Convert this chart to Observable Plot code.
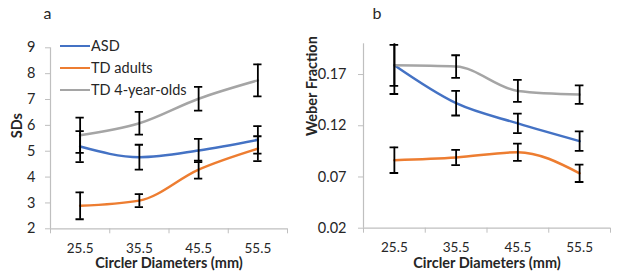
<!DOCTYPE html>
<html><head><meta charset="utf-8">
<script src="https://cdn.jsdelivr.net/npm/d3@7"></script>
<script src="https://cdn.jsdelivr.net/npm/@observablehq/plot@0.6"></script>
<style>
body{margin:0;background:#fff;}
#wrap{position:relative;width:617px;height:278px;font-family:Lato,"Liberation Sans",sans-serif;color:#262626;overflow:hidden}
.p{position:absolute;top:0}
.lg{position:absolute;font-size:14.5px;line-height:14px;white-space:nowrap}
.sw{position:absolute;height:2.5px;width:30px}
</style></head><body><div id="wrap"></div>
<script>
const diameters = [25.5, 35.5, 45.5, 55.5];
const series = ["ASD", "TD adults", "TD 4-year-olds"];
const colors = ["#4472C4", "#ED7D31", "#A5A5A5"];

// Panel a: SDs
const sdASD = [5.18, 4.77, 5.03, 5.44];
const sdASDerr = [0.60, 0.48, 0.45, 0.53];
const sdAdult = [2.89, 3.09, 4.29, 5.10];
const sdAdultErr = [0.52, 0.25, 0.35, 0.48];
const sdKid = [5.62, 6.08, 7.03, 7.74];
const sdKidErr = [0.68, 0.44, 0.46, 0.62];
const sdTicks = [2, 3, 4, 5, 6, 7, 8, 9];

// Panel b: Weber fraction
const wfASD = [0.179, 0.142, 0.1223, 0.105];
const wfASDerr = [0.028, 0.012, 0.0095, 0.0095];
const wfAdult = [0.0864, 0.089, 0.0942, 0.0736];
const wfAdultErr = [0.0125, 0.0075, 0.0084, 0.0085];
const wfKid = [0.179, 0.1778, 0.154, 0.1504];
const wfKidErr = [0.020, 0.011, 0.0107, 0.009];
const wfTicks = [0.02, 0.07, 0.12, 0.17];

function rows(vals, errs) {
  const out = [];
  series.forEach((s, si) => diameters.forEach((d, i) =>
    out.push({d, series: s, v: vals[si][i], lo: vals[si][i] - errs[si][i], hi: vals[si][i] + errs[si][i]})));
  return out;
}

const step = diameters[1] - diameters[0];
const xDomain = [diameters[0] - step / 2, diameters[diameters.length - 1] + step / 2];
const bounds = d3.range(diameters.length + 1).map(i => xDomain[0] + i * step);
const cap = step * 0.07;
const axisGray = "#BFBFBF";
const textCol = "#262626";

function panel(o) {
  const data = rows(o.vals, o.errs);
  return Plot.plot({
    width: o.width, height: 278,
    marginLeft: o.mL, marginRight: o.mR, marginTop: o.mT, marginBottom: o.mB,
    style: {fontSize: "13.5px", fontFamily: "Lato, 'Liberation Sans', sans-serif", color: textCol, background: "white"},
    x: {domain: xDomain},
    y: {domain: o.domain},
    color: {domain: series, range: colors},
    marks: [
      Plot.ruleY([o.domain[0]], {stroke: axisGray, strokeWidth: 1.2}),
      Plot.ruleX([xDomain[0]], {stroke: axisGray, strokeWidth: 1.2}),
      Plot.axisX({ticks: bounds, tickFormat: () => "", tickSize: 5, stroke: axisGray, label: null}),
      Plot.text(diameters, {x: d => d, frameAnchor: "bottom", dy: 24, text: d => d.toFixed(1), fill: textCol, fontSize: 13.5}),
      Plot.axisY({ticks: o.ticks, tickSize: 5, tickPadding: o.tp, stroke: axisGray, tickFormat: o.fmt, fill: textCol, fontSize: 14.5, label: null}),
      Plot.line(data, {x: "d", y: "v", z: "series", stroke: "series", strokeWidth: 2.5, curve: "monotone-x"}),
      Plot.ruleX(data, {x: "d", y1: "lo", y2: "hi", stroke: "black", strokeWidth: 1.8, clip: true}),
      Plot.ruleY(data, {y: "hi", x1: d => d.d - cap, x2: d => d.d + cap, stroke: "black", strokeWidth: 1.8, clip: true}),
      Plot.ruleY(data, {y: "lo", x1: d => d.d - cap, x2: d => d.d + cap, stroke: "black", strokeWidth: 1.8, clip: true}),
      Plot.text(["Circler Diameters (mm)"], {frameAnchor: "bottom", dy: 39.5, fontWeight: "bold", fontSize: 14.5, fill: textCol}),
      Plot.text([o.ytitle], {frameAnchor: "left", dx: o.ytDx, rotate: -90, fontWeight: "bold", fontSize: 14.5, fill: textCol}),
      Plot.text([o.letter], {frameAnchor: "top-left", dx: o.ldx, dy: o.ldy, fontSize: 16, fill: textCol})
    ]
  });
}

const wrap = document.getElementById("wrap");
const a = panel({vals: [sdASD, sdAdult, sdKid], errs: [sdASDerr, sdAdultErr, sdKidErr], ticks: sdTicks, domain: [2, 9],
  fmt: d => String(d), width: 310, mL: 50, mR: 23, mT: 47.3, mB: 49.7, tp: 10, ytitle: "SDs", ytDx: -33, letter: "a", ldx: -7, ldy: -40});
a.classList.add("p"); a.style.left = "0px";
wrap.appendChild(a);
const b = panel({vals: [wfASD, wfAdult, wfKid], errs: [wfASDerr, wfAdultErr, wfKidErr], ticks: wfTicks, domain: [0.02, 0.2],
  fmt: d => d.toFixed(2), width: 317, mL: 63, mR: 7, mT: 43.3, mB: 50.3, tp: 12, ytitle: "Weber Fraction", ytDx: -51.5, letter: "b", ldx: 9, ldy: -36});
b.classList.add("p"); b.style.left = "300px";
wrap.appendChild(b);

// legend (panel a, inside plot area)
series.forEach((s, i) => {
  const y = 46 + i * 22;
  const sw = document.createElement("div");
  sw.className = "sw"; sw.style.left = "60px"; sw.style.top = (y - 1.25) + "px"; sw.style.background = colors[i];
  wrap.appendChild(sw);
  const t = document.createElement("div");
  t.className = "lg"; t.style.left = "91px"; t.style.top = (y - 7) + "px"; t.textContent = s;
  wrap.appendChild(t);
});
</script>
</body></html>
